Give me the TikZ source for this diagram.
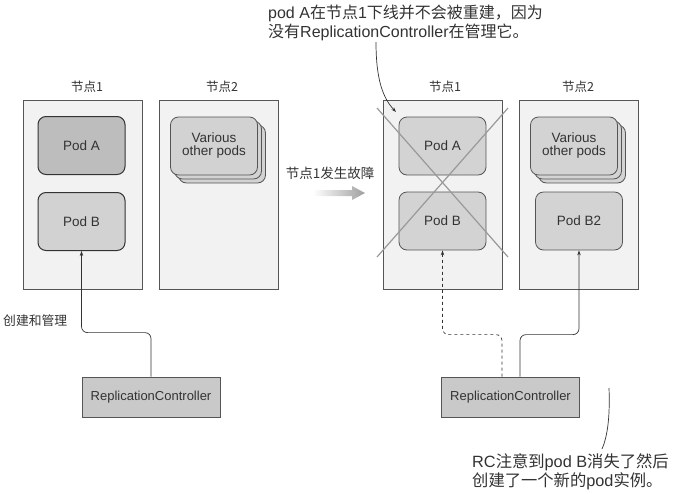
\documentclass[tikz,border=0pt]{standalone}
\usepackage{fontspec}
\setmainfont{Liberation Sans}
\newfontfamily\cjk{Noto Sans CJK SC}
\usetikzlibrary{arrows.meta,calc}
\definecolor{nodebg}{HTML}{F2F2F2}
\definecolor{nodeln}{HTML}{555555}
\definecolor{podA}{HTML}{BDBDBD}
\definecolor{podB}{HTML}{D2D2D2}
\definecolor{podR}{HTML}{D3D3D3}
\definecolor{rcfill}{HTML}{C9C9C9}
\definecolor{txt}{HTML}{333333}
\tikzset{
  nodebox/.style={draw=nodeln, fill=nodebg, line width=0.8pt, minimum width=119pt, minimum height=189pt, inner sep=0pt},
  podbox/.style={draw=nodeln, fill=podR, line width=0.8pt, rounded corners=8pt, minimum width=87pt, minimum height=58pt, inner sep=0pt, text=txt, font=\fontsize{13.5}{15}\selectfont, align=center},
  podleft/.style={podbox, draw=txt, line width=1pt},
  rcbox/.style={draw=nodeln, fill=rcfill, line width=0.8pt, minimum width=138pt, minimum height=40pt, inner sep=0pt, text=txt, font=\fontsize{13}{15}\selectfont},
  lbl/.style={text=txt, font=\cjk\fontsize{12.5}{14}\selectfont, inner sep=0pt},
  note/.style={text=txt, font=\fontsize{16}{19}\selectfont, inner sep=0pt, anchor=west},
  conn/.style={draw=txt, line width=0.7pt, rounded corners=6pt, -{Stealth[length=5pt,width=3.5pt]}},
  xline/.style={draw=gray!80, line width=1.2pt},
}
\begin{document}
\begin{tikzpicture}[x=1pt,y=-1pt]
\useasboundingbox[fill=white] (0,0) rectangle (674,493);

% ---------- left state ----------
\node[nodebox] (n1L) at (82.5,194.5) {};
\node[nodebox] (n2L) at (218.5,194.5) {};
\node[lbl] (l1L) at (87,87) {节点1};
\node[lbl] (l2L) at (222,87) {节点2};
\node[podleft, fill=podA] (podAL) at (81.5,145.5) {Pod A};
\node[podleft, fill=podB] (podBL) at (81.5,221.5) {Pod B};
\node[podbox, fill=podB] (vL3) at (222,154) {};
\node[podbox, fill=podB] (vL2) at (218,150) {};
\node[podbox, fill=podB] (vL1) at (214,146) {Various\\[-2pt]other pods};
\node[rcbox] (rcL) at (151,397) {ReplicationController};
\node[lbl, font=\cjk\fontsize{12.8}{15}\selectfont, anchor=west] (mgL) at (3,321) {创建和管理};
\draw[conn] (rcL.north) -- ++(0,-44) -| (podBL.south);

% ---------- transition ----------
\node[lbl, font=\cjk\fontsize{13.5}{16}\selectfont] (fail) at (330,173) {节点1发生故障};
\shade[left color=white, right color=gray!75]
  (313,190) -- (352,190) -- (352,186) -- (365,193) -- (352,200) -- (352,196) -- (313,196) -- cycle;

% ---------- right state ----------
\node[nodebox] (n1R) at (442.5,194.5) {};
\node[nodebox] (n2R) at (578.5,194.5) {};
\node[lbl] (l1R) at (445,87) {节点1};
\node[lbl] (l2R) at (578,87) {节点2};
\node[podbox] (podAR) at (442.5,146) {Pod A};
\node[podbox] (podBR) at (442.5,221) {Pod B};
\node[podbox] (vR3) at (582,154) {};
\node[podbox] (vR2) at (578,150) {};
\node[podbox] (vR1) at (574,146) {Various\\[-2pt]other pods};
\node[podbox] (podB2) at (579,221) {Pod B2};
\node[rcbox] (rcR) at (510.5,397) {ReplicationController};
\coordinate (x1) at (377,108);
\coordinate (x2) at (508,257);
\coordinate (x3) at (508,108);
\coordinate (x4) at (377,257);
\draw[xline] (x1) -- (x2);
\draw[xline] (x3) -- (x4);
\draw[conn, dashed] ([xshift=-8.5pt]rcR.north) -- ++(0,-42) -| (podBR.south);
\draw[conn] ([xshift=9.5pt]rcR.north) -- ++(0,-42) -| (podB2.south);

% ---------- annotations ----------
\node[note] (noteA1) at (268,13) {pod A{\cjk 在节点}1{\cjk 下线并不会被重建，因为}};
\node[note] (noteA2) at (268,32) {{\cjk 没有}ReplicationController{\cjk 在管理它。}};
\coordinate (tA) at (376,42);
\coordinate (hA) at (396,112);
\draw[draw=txt, line width=0.7pt, -{Stealth[length=5pt,width=3.5pt]}] (tA) .. controls (376,80) and (383,98) .. (hA);
\node[note, font=\fontsize{16.3}{19}\selectfont] (noteB1) at (472,462) {RC{\cjk 注意到}pod B{\cjk 消失了然后}};
\node[note, font=\fontsize{16.3}{19}\selectfont] (noteB2) at (472,481) {{\cjk 创建了一个新的}pod{\cjk 实例。}};
\coordinate (tB) at (609,388);
\coordinate (hB) at (602,449);
\draw[draw=txt, line width=0.7pt] (tB) .. controls (610,415) and (608,435) .. (hB);
\end{tikzpicture}
\end{document}
